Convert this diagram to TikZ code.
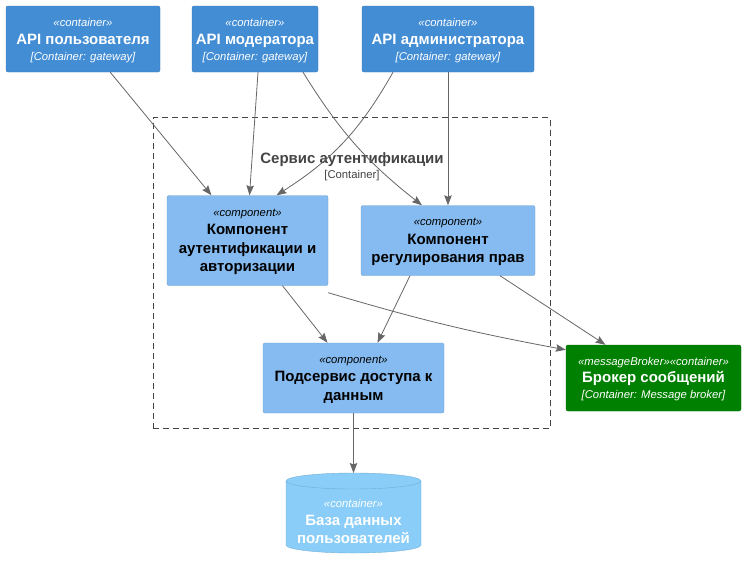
\documentclass[tikz,border=0pt]{standalone}
\usepackage{fontspec}
\setmainfont{Liberation Sans}
\usetikzlibrary{arrows.meta,positioning}
\definecolor{apiblue}{HTML}{438DD5}
\definecolor{compblue}{HTML}{85BBF0}
\definecolor{brokergreen}{HTML}{008000}
\definecolor{dbblue}{HTML}{89CDF8}
\definecolor{relgray}{HTML}{666666}
\definecolor{bndgray}{HTML}{444444}
\newcommand{\stereo}[1]{{\fontsize{11.3}{13}\itshape «#1»}}
\newcommand{\techline}[1]{{\fontsize{11.3}{13}\itshape [#1]}}
\tikzset{
	box/.style={rectangle, rounded corners=2pt, align=center, inner sep=2pt,
		font=\fontsize{15}{18.5}\selectfont, text depth=-4.5pt},
	api/.style={box, fill=apiblue, draw=apiblue!85!black, text=white,
		minimum height=66pt},
	comp/.style={box, fill=compblue, draw=compblue!85!black, text=black},
	broker/.style={box, fill=brokergreen, draw=brokergreen!85!black, text=white,
		minimum width=175pt, minimum height=66pt},
	bnd/.style={draw=bndgray, dash pattern=on 6pt off 4pt,
		minimum width=397pt, minimum height=311pt},
	rel/.style={-{Stealth[length=10pt,width=7.5pt,inset=1.5pt]}, draw=relgray, line width=0.8pt}}

\begin{document}
\begin{tikzpicture}[x=1pt, y=-1pt]
	\useasboundingbox (0,0) rectangle (747,568);
	\node[bnd] (srv) at (351.5,273) {};
	\node[text=bndgray, font=\fontsize{15}{16}\selectfont\bfseries] (srvtitle) at (352,160)
		{Сервис аутентификации};
	\node[text=bndgray, font=\fontsize{11.3}{12}\selectfont] (srvtech) at (352,176) {[Container]};
	
	\node[api, minimum width=154pt] (apiuser) at (83,39)
		{\stereo{container}\\[-0.5pt]\textbf{API пользователя}\\[-2.5pt]\techline{Container: gateway}};
	\node[api, minimum width=126pt] (apimod) at (255,39)
		{\stereo{container}\\[-0.5pt]\textbf{API модератора}\\[-2.5pt]\techline{Container: gateway}};
	\node[api, minimum width=172pt] (apiadm) at (448,39)
		{\stereo{container}\\[-0.5pt]\textbf{API администратора}\\[-2.5pt]\techline{Container: gateway}};
	
	\node[comp, minimum width=161pt, minimum height=90pt] (auth) at (247.5,240.5)
		{\stereo{component}\\\textbf{Компонент}\\\textbf{аутентификации и}\\\textbf{авторизации}};
	\node[comp, minimum width=174pt, minimum height=70pt] (rights) at (448,240.5)
		{\stereo{component}\\\textbf{Компонент}\\\textbf{регулирования прав}};
	\node[comp, minimum width=181pt, minimum height=70pt] (data) at (353.5,378)
		{\stereo{component}\\\textbf{Подсервис доступа к}\\\textbf{данным}};
	\node[broker] (mq) at (653.5,378)
		{\stereo{messageBroker}\stereo{container}\\[-1.5pt]\textbf{Брокер сообщений}\\[-2.5pt]\techline{Container: Message broker}};
	
	\fill[dbblue, draw=dbblue!85!black] (286,481) -- (286,545) arc (180:0:67.5 and 8)
		-- (421,481) arc (360:180:67.5 and 8) -- cycle;
	\draw[dbblue!85!black] (286,481) arc (180:0:67.5 and 8);
	\coordinate (dbtop) at (353.5,473);
	\node[align=center, text=white, font=\fontsize{15}{18}\selectfont] (db) at (353.5,521)
		{\stereo{container}\\\textbf{База данных}\\\textbf{пользователей}};
	
	\draw[rel] (apiuser.south east) ++(-50,0) -- ([xshift=-36pt]auth.north);
	\draw[rel] ([xshift=3pt]apimod.south) -- ([xshift=2pt]auth.north);
	\draw[rel] ([xshift=-55pt]apiadm.south) to[bend left=14] ([xshift=29pt]auth.north);
	\draw[rel] ([xshift=48pt]apimod.south) to[bend right=10] ([xshift=-26pt]rights.north);
	\draw[rel] (apiadm.south) -- (rights.north);
	\draw[rel] ([xshift=35pt]auth.south) -- ([xshift=-26pt]data.north);
	\draw[rel] ([xshift=-38pt]rights.south) -- ([xshift=24pt]data.north);
	\draw[rel] ([yshift=-7pt]auth.south east) to[bend right=3] ([yshift=-5pt]mq.north west);
	\draw[rel] ([xshift=52pt]rights.south) -- ([xshift=-48pt]mq.north);
	\draw[rel] (data) -- (dbtop);
\end{tikzpicture}
\end{document}
